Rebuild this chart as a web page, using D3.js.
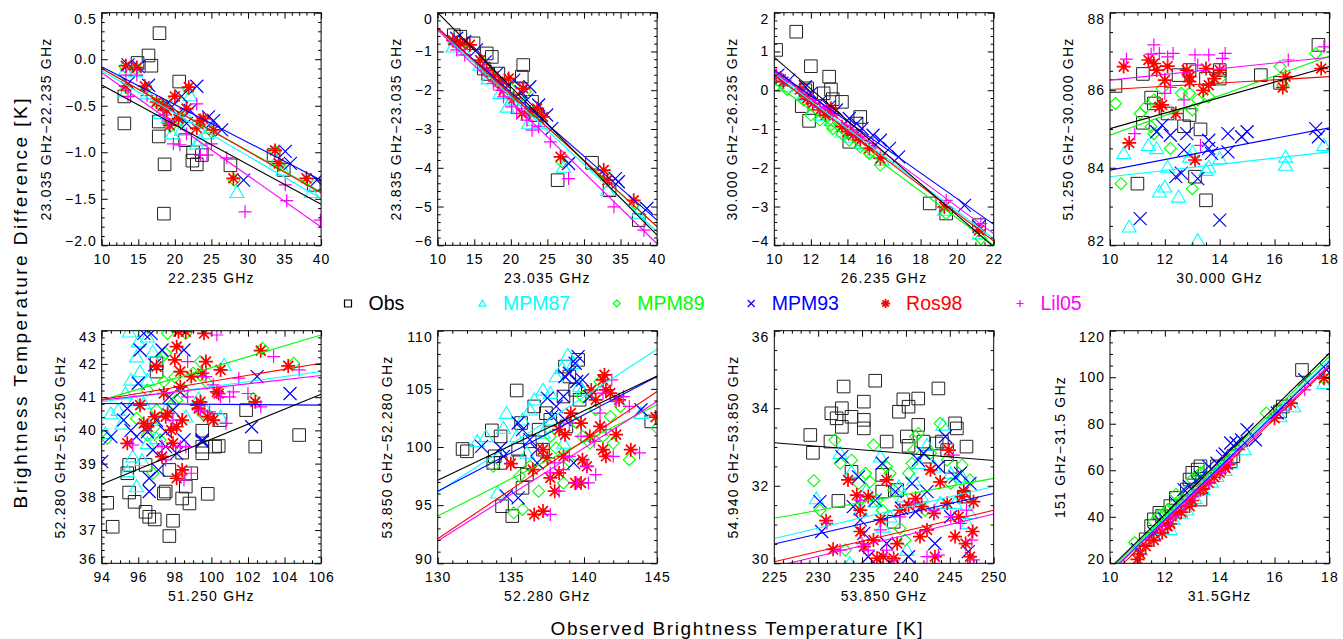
<!DOCTYPE html>
<html>
<head>
<meta charset="utf-8">
<script src="https://cdn.jsdelivr.net/npm/d3@7"></script>
<style>
body { margin: 0; background: #fff; }
text { font-family: "Liberation Sans", Arial, sans-serif; }
</style>
</head>
<body>
<div id="chart"></div>
<script>
// Series (same order in every panel)
var seriesNames = ["Obs", "MPM87", "MPM89", "MPM93", "Ros98", "Lil05"];
var seriesColors = ["#000000", "#00ffff", "#00ff00", "#0000ff", "#ff0000", "#ff00ff"];
var seriesSymbols = ["square", "triangle", "diamond", "x", "asterisk", "plus"];

// Panel axes
var xTitles = ["22.235 GHz", "23.035 GHz", "26.235 GHz", "30.000 GHz",
               "51.250 GHz", "52.280 GHz", "53.850 GHz", "31.5GHz"];
var yTitles = ["23.035 GHz\u221222.235 GHz", "23.835 GHz\u221223.035 GHz",
               "30.000 GHz\u221226.235 GHz", "51.250 GHz\u221230.000 GHz",
               "52.280 GHz\u221251.250 GHz", "53.850 GHz\u221252.280 GHz",
               "54.940 GHz\u221253.850 GHz", "151 GHz\u221231.5 GHz"];
var xDomains = [[10, 40], [10, 40], [10, 22], [10, 18], [94, 106], [130, 145], [225, 250], [10, 18]];
var yDomains = [[-2, 0.5], [-6, 0], [-4, 2], [82, 88], [36, 43], [90, 110], [30, 36], [20, 120]];
var xTickSteps = [5, 5, 2, 2, 2, 5, 5, 2];
var yTickSteps = [0.5, 1, 1, 2, 1, 5, 2, 20];
var yTickFormats = [".1f", "d", "d", "d", "d", "d", "d", "d"];

// Panel 1: 22.235 GHz
var p1Obs = [[17.9,0.28],[16.4,0.04],[16.8,-0.07],[14.9,-0.04],[13.1,-0.40],[13.1,-0.69],[17.8,-0.67],[17.8,-0.83],[20.6,-0.24],[18.6,-1.13],[18.5,-1.66],[22.4,-1.09],[23.0,-1.13],[23.7,-1.03],[27.6,-1.14],[33.5,-1.03],[34.9,-1.19],[39.0,-1.35],[22.5,-1.00],[21.4,-0.87]];
var p1Cyan = [[13.2,-0.12],[14.6,-0.13],[13.3,-0.35],[16.2,-0.37],[18.0,-0.58],[19.1,-0.62],[19.6,-0.80],[22.1,-0.39],[20.9,-0.76],[23.5,-0.87],[24.4,-0.80],[24.8,-0.74],[28.5,-1.43],[33.9,-1.09],[34.8,-1.19],[38.7,-1.43],[21.6,-0.62],[23.0,-0.91]];
var p1Green = [[13.2,-0.08],[14.7,-0.10],[13.4,-0.31],[16.1,-0.31],[17.8,-0.48],[18.7,-0.53],[20.0,-0.42],[21.9,-0.32],[20.7,-0.66],[23.7,-0.67],[25.0,-0.78],[28.1,-1.30],[33.7,-0.99],[34.3,-1.14],[38.1,-1.30],[19.4,-0.72]];
var p1Blue = [[13.6,-0.06],[15.0,-0.08],[13.6,-0.26],[16.4,-0.28],[18.9,-0.48],[19.6,-0.51],[20.9,-0.40],[23.0,-0.29],[22.1,-0.55],[24.6,-0.62],[25.3,-0.66],[26.4,-0.76],[29.4,-1.30],[35.1,-0.99],[35.8,-1.12],[39.4,-1.30],[21.6,-0.69],[20.3,-0.60]];
var p1Red = [[13.3,-0.07],[14.8,-0.09],[13.3,-0.29],[15.9,-0.29],[17.5,-0.46],[18.4,-0.50],[18.9,-0.55],[20.0,-0.40],[21.9,-0.30],[21.6,-0.53],[20.5,-0.64],[19.3,-0.71],[23.5,-0.66],[23.9,-0.64],[23.0,-0.74],[25.3,-0.76],[28.0,-1.28],[33.7,-0.98],[34.2,-1.12],[38.0,-1.28]];
var p1Mag = [[13.3,-0.17],[14.8,-0.17],[13.6,-0.40],[16.2,-0.39],[18.4,-0.60],[19.8,-0.91],[20.7,-0.92],[21.6,-0.80],[23.0,-0.48],[23.5,-1.03],[24.4,-1.03],[25.0,-0.91],[27.1,-1.06],[29.6,-1.64],[35.1,-1.35],[35.3,-1.52],[39.9,-1.73],[19.1,-0.69]];
var p1Fits = [[-0.278,-1.559],[-0.124,-1.498],[-0.099,-1.426],[-0.081,-1.30],[-0.099,-1.437],[-0.146,-1.803]];

// Panel 2: 23.035 GHz
var p2Obs = [[12.2,-0.58],[13.1,-0.62],[14.9,-0.79],[16.7,-1.05],[17.4,-1.14],[16.3,-1.44],[16.9,-1.58],[18.3,-1.57],[21.7,-1.35],[21.5,-1.65],[22.9,-2.30],[20.8,-1.95],[23.3,-2.64],[31.1,-3.87],[26.4,-4.32],[33.5,-4.58],[37.5,-5.35]];
var p2Cyan = [[12.1,-0.88],[13.5,-0.96],[15.8,-1.35],[16.9,-1.70],[18.5,-2.08],[20.1,-2.25],[21.7,-2.34],[23.1,-2.77],[22.4,-2.86],[27.2,-3.98],[33.2,-4.58],[37.3,-5.18],[19.5,-2.43],[24.5,-2.86]];
var p2Green = [[12.2,-0.75],[13.3,-0.83],[16.0,-1.27],[17.2,-1.61],[18.8,-1.87],[19.9,-1.95],[22.0,-2.04],[23.1,-2.56],[27.0,-3.85],[32.9,-4.19],[37.0,-4.92],[20.8,-2.25],[24.0,-2.64]];
var p2Blue = [[12.6,-0.66],[13.7,-0.75],[15.3,-0.96],[16.5,-1.27],[18.1,-1.57],[19.0,-1.78],[20.4,-1.74],[22.6,-1.91],[21.4,-2.04],[23.8,-2.38],[24.9,-2.64],[25.6,-2.99],[27.9,-3.89],[34.3,-4.28],[34.7,-4.36],[38.6,-5.05],[22.2,-2.25]];
var p2Red = [[12.1,-0.71],[13.1,-0.79],[14.4,-0.83],[15.8,-1.22],[16.7,-1.48],[17.6,-1.65],[18.3,-1.78],[19.7,-1.70],[21.7,-1.95],[19.0,-2.00],[20.4,-2.21],[22.6,-2.56],[23.6,-2.47],[26.8,-3.72],[32.7,-4.06],[33.2,-4.32],[36.8,-4.84],[21.5,-2.60],[24.4,-2.69]];
var p2Mag = [[12.6,-0.96],[13.7,-1.09],[16.3,-1.48],[17.6,-1.82],[19.0,-2.17],[20.1,-2.43],[20.8,-2.60],[21.5,-2.47],[22.9,-3.03],[23.8,-2.94],[25.4,-3.33],[27.9,-4.28],[34.1,-5.01],[38.2,-5.61],[18.5,-2.00],[22.2,-2.77]];
var p2Fits = [[0.0,-5.74],[-0.43,-5.65],[-0.40,-5.52],[-0.40,-5.35],[-0.40,-5.52],[-0.45,-5.96]];

// Panel 3: 26.235 GHz
var p3Obs = [[10.1,1.04],[11.2,1.51],[12.0,0.62],[13.0,0.35],[13.1,0.02],[13.2,-0.23],[13.7,-0.30],[11.7,0.00],[11.8,0.05],[11.5,-0.41],[11.9,-0.79],[14.7,-0.69],[14.5,-0.86],[14.1,-1.33],[18.5,-2.92],[19.4,-3.18],[21.2,-3.48],[12.7,-0.08]];
var p3Cyan = [[10.1,0.26],[10.6,0.11],[11.6,-0.13],[12.1,-0.47],[12.6,-0.64],[13.1,-0.77],[13.7,-1.07],[14.2,-1.20],[14.8,-1.37],[15.4,-1.59],[15.9,-1.80],[19.3,-3.09],[21.2,-3.70]];
var p3Green = [[10.1,0.13],[10.7,0.02],[11.6,-0.25],[12.0,-0.64],[12.5,-0.77],[13.1,-0.90],[13.7,-1.12],[14.1,-1.29],[14.7,-1.46],[15.2,-1.63],[15.8,-1.93],[19.4,-3.18],[21.3,-3.83],[13.2,-0.99]];
var p3Blue = [[10.2,0.39],[10.8,0.26],[11.7,0.09],[12.0,-0.08],[12.5,-0.30],[13.0,-0.43],[13.4,-0.51],[14.1,-0.73],[14.5,-0.86],[14.8,-0.99],[15.4,-1.16],[15.8,-1.29],[16.3,-1.50],[16.8,-1.72],[20.4,-2.97],[21.2,-3.52]];
var p3Red = [[10.1,0.36],[10.5,0.22],[11.4,0.02],[11.8,-0.21],[12.1,-0.34],[12.5,-0.51],[12.8,-0.64],[13.2,-0.60],[13.7,-0.94],[14.0,-1.07],[14.3,-1.16],[14.7,-1.29],[15.2,-1.50],[15.8,-1.76],[19.3,-3.01],[21.2,-3.61],[13.1,-0.47]];
var p3Mag = [[10.1,0.43],[10.6,0.26],[11.6,-0.08],[12.1,-0.25],[12.5,-0.43],[12.9,-0.47],[13.2,-0.64],[13.9,-0.90],[14.3,-1.07],[14.8,-1.20],[15.4,-1.37],[19.4,-2.84],[21.3,-3.44]];
var p3Fits = [[0.847,-4.04],[0.43,-3.83],[0.18,-4.00],[0.52,-3.46],[0.39,-3.89],[0.48,-3.70]];

// Panel 4: 30.000 GHz
var p4Obs = [[10.2,86.11],[11.2,86.42],[11.2,85.16],[11.5,85.81],[11.6,85.66],[12.1,85.40],[12.5,86.39],[12.9,86.52],[12.9,85.36],[12.7,85.07],[13.3,84.99],[13.1,83.77],[11.0,83.59],[13.5,83.16],[14.0,86.52],[14.0,86.30],[13.5,86.30],[15.5,86.39],[16.2,86.19],[17.6,87.17]];
var p4Cyan = [[10.5,84.37],[10.7,82.48],[11.4,84.58],[11.7,84.50],[11.8,83.38],[12.0,83.51],[12.1,84.02],[12.5,83.25],[12.9,84.28],[13.2,82.13],[13.5,83.94],[13.6,84.02],[14.0,84.24],[16.4,84.28],[16.4,84.07],[17.8,84.58],[13.0,84.41]];
var p4Green = [[10.2,85.66],[10.4,83.59],[11.1,85.40],[11.3,85.57],[11.6,85.75],[11.5,85.06],[11.6,84.88],[11.9,86.05],[12.2,84.50],[12.6,85.92],[12.9,85.92],[13.2,85.75],[13.6,85.83],[13.0,83.46],[14.0,86.30],[16.2,86.61],[16.3,86.13],[17.5,86.95],[13.0,85.49]];
var p4Blue = [[11.1,82.69],[11.7,84.93],[11.9,85.10],[12.2,84.84],[12.4,83.77],[12.6,83.86],[12.7,84.46],[12.8,84.88],[13.2,83.72],[13.6,84.71],[13.6,84.50],[13.7,84.37],[14.0,82.65],[14.3,84.88],[14.3,84.41],[14.8,84.80],[15.0,84.93],[17.5,85.01],[17.6,84.80]];
var p4Red = [[10.5,86.61],[10.7,84.64],[11.4,86.78],[11.6,86.69],[11.7,86.52],[11.9,85.62],[11.8,85.57],[12.0,86.26],[12.1,86.62],[12.4,85.40],[12.8,86.52],[12.9,86.35],[12.9,86.22],[13.1,84.20],[13.4,86.00],[13.5,86.56],[13.6,86.13],[14.0,86.52],[13.8,86.30],[16.3,86.07],[16.4,86.35],[17.7,86.56]];
var p4Mag = [[10.6,86.80],[10.9,84.88],[11.5,86.93],[11.6,87.17],[11.8,86.95],[12.1,86.86],[12.3,86.95],[12.0,85.92],[12.2,86.07],[12.7,85.75],[13.1,86.91],[13.2,86.65],[13.6,86.91],[14.1,86.82],[14.2,86.95],[13.3,84.58],[16.5,86.78],[17.8,87.12]];
var p4Fits = [[85.01,86.61],[83.77,84.41],[84.84,86.88],[83.94,85.03],[86.02,86.35],[86.26,86.85]];

// Panel 5: 51.250 GHz
var p5Obs = [[94.3,37.82],[94.6,37.10],[95.5,38.96],[95.4,38.71],[95.5,38.13],[95.8,37.85],[96.4,38.96],[96.4,37.55],[96.6,37.40],[96.9,37.32],[97.0,41.77],[97.4,38.10],[97.5,38.16],[97.7,38.81],[97.7,36.82],[97.9,37.28],[98.4,37.95],[98.6,38.31],[98.8,37.80],[98.4,39.33],[98.9,38.71],[99.5,39.31],[99.5,39.51],[99.8,38.09],[100.2,39.51],[100.4,39.53],[100.5,40.31],[99.5,39.99],[101.9,40.61],[102.4,39.51],[104.8,39.86],[97.0,42.02]];
var p5Cyan = [[94.2,39.91],[94.5,40.51],[94.9,40.61],[95.3,41.11],[95.4,38.76],[95.5,42.97],[95.6,41.52],[95.7,39.21],[95.9,42.22],[95.9,38.31],[96.0,42.67],[96.1,41.77],[96.3,40.81],[96.5,41.52],[96.5,39.61],[96.8,40.31],[96.8,42.37],[97.0,39.76],[97.5,40.61],[98.6,40.41],[99.3,40.96],[99.7,40.61],[100.5,40.41],[100.7,41.97],[96.5,42.82],[95.1,40.2],[95.8,40.9],[96.2,39.1]];
var p5Green = [[94.3,39.76],[95.9,40.36],[96.5,41.21],[96.5,39.86],[96.8,38.71],[97.0,40.61],[97.2,39.71],[97.4,41.47],[97.5,42.32],[97.6,42.92],[97.9,40.81],[98.1,40.91],[98.5,41.21],[99.0,41.72],[99.4,41.67],[99.8,41.42],[99.5,40.51],[98.6,42.92],[99.4,42.07],[102.3,40.96],[102.8,42.47],[104.5,42.02],[97.3,42.20],[96.9,40.1],[98.0,41.6]];
var p5Blue = [[94.0,39.06],[94.5,39.81],[95.2,40.31],[95.4,40.66],[95.9,39.81],[96.0,41.42],[96.1,42.42],[96.3,42.92],[96.5,39.96],[96.6,38.56],[96.6,38.16],[96.7,42.92],[96.9,41.97],[96.8,39.41],[97.1,38.81],[97.3,42.42],[97.5,39.51],[97.5,39.96],[97.7,41.01],[97.9,40.61],[98.3,41.16],[98.5,42.42],[98.5,39.71],[99.5,39.71],[99.5,39.66],[102.5,41.62],[102.2,40.11],[104.3,41.11],[98.1,39.31],[95.6,40.0],[97.0,40.3]];
var p5Red = [[95.4,39.61],[96.1,40.76],[96.3,40.21],[96.5,40.11],[96.9,40.41],[97.0,41.92],[97.3,39.21],[97.4,41.11],[97.5,40.41],[97.6,40.51],[97.8,40.01],[97.9,39.61],[98.0,42.12],[98.1,42.52],[98.2,42.97],[98.3,41.31],[98.4,38.81],[98.1,38.56],[98.1,40.11],[98.4,40.31],[98.3,41.77],[98.6,42.97],[98.9,41.62],[99.2,40.76],[99.3,40.66],[99.4,40.86],[99.5,41.72],[99.6,42.92],[99.7,42.07],[99.8,40.41],[100.1,40.31],[100.3,41.16],[100.4,41.11],[100.5,41.82],[102.4,40.86],[102.7,42.40],[104.2,41.94]];
var p5Mag = [[95.7,39.56],[97.3,39.51],[97.5,39.11],[97.9,40.31],[98.3,39.51],[98.6,39.51],[98.5,38.51],[98.9,38.71],[98.7,42.07],[99.7,41.62],[99.9,40.56],[100.1,41.37],[100.3,42.87],[100.5,41.01],[100.8,40.21],[101.0,41.01],[101.2,41.16],[101.5,41.57],[102.0,41.11],[102.7,40.71],[103.4,42.22],[104.8,41.82],[98.7,41.01],[99.4,40.61]];
var p5Fits = [[38.38,41.09],[40.86,41.77],[40.91,42.87],[40.81,40.76],[40.93,42.02],[40.91,41.65]];

// Panel 6: 52.280 GHz
var p6Obs = [[131.7,99.83],[132.0,99.63],[133.7,101.43],[133.8,98.63],[134.3,100.91],[134.3,98.63],[133.9,99.20],[134.4,94.91],[135.1,94.06],[135.4,104.86],[135.5,99.77],[135.6,98.77],[135.7,102.06],[136.1,97.63],[135.8,96.49],[136.3,100.49],[136.6,103.49],[136.9,101.49],[137.4,102.91],[137.7,102.34],[137.2,99.77],[138.7,106.91],[139.0,106.06],[139.6,107.49],[139.4,104.91],[139.7,104.06],[138.8,101.77],[144.6,102.20],[138.6,104.34]];
var p6Cyan = [[132.7,100.49],[133.3,100.91],[134.1,96.06],[134.5,101.63],[134.7,102.91],[135.4,100.91],[135.8,102.34],[136.3,103.20],[136.6,104.06],[137.2,104.91],[137.7,104.63],[138.1,106.06],[138.5,106.77],[138.9,107.91],[139.3,107.20],[139.7,105.20],[137.2,101.20],[137.8,102.34],[138.6,100.34],[143.9,102.91],[136.1,99.49],[139.9,104.91]];
var p6Green = [[133.8,98.34],[135.2,94.34],[135.8,94.63],[135.6,97.49],[136.3,98.34],[136.9,96.20],[137.2,98.63],[137.7,100.91],[138.1,99.91],[138.6,96.91],[139.0,98.77],[139.5,102.06],[139.9,100.91],[140.4,100.34],[140.8,103.20],[141.1,105.63],[141.3,100.91],[141.8,102.63],[142.0,100.34],[142.5,103.49],[143.1,98.91],[145.0,101.63],[139.9,104.34]];
var p6Blue = [[133.0,100.06],[134.3,99.91],[134.5,99.20],[134.7,95.77],[135.5,95.63],[135.5,102.06],[135.8,101.49],[136.3,100.63],[136.8,99.77],[137.5,104.20],[137.8,102.63],[138.1,103.49],[138.6,104.34],[138.7,106.06],[139.0,106.34],[139.4,107.20],[139.6,107.77],[139.5,105.63],[139.9,105.77],[138.7,102.34],[139.3,98.63],[140.4,104.34],[143.9,103.20],[136.8,98.63]];
var p6Red = [[135.0,98.57],[136.6,94.20],[137.2,94.49],[136.5,98.06],[137.2,99.77],[137.5,99.06],[137.7,97.34],[138.0,96.20],[138.3,97.77],[138.7,101.06],[138.6,99.20],[139.1,102.91],[139.4,96.91],[139.8,96.91],[139.9,98.91],[140.2,98.34],[139.8,102.06],[140.4,100.91],[140.5,104.91],[140.8,104.06],[141.1,101.77],[141.3,105.77],[141.4,106.20],[141.5,104.91],[141.8,104.63],[141.3,99.77],[141.5,99.20],[142.2,101.06],[142.4,104.06],[143.2,99.77],[144.9,102.57],[138.3,101.49]];
var p6Mag = [[137.7,97.77],[137.7,94.20],[138.3,96.20],[138.0,98.63],[138.6,98.06],[139.0,102.06],[139.5,96.91],[140.3,96.91],[140.2,98.34],[140.7,100.49],[140.8,97.63],[141.1,102.91],[141.3,104.63],[141.5,101.49],[142.0,99.20],[141.9,105.77],[142.2,103.91],[142.7,104.34],[143.1,103.49],[143.8,99.49],[139.0,99.20],[139.8,100.91]];
var p6Fits = [[97.14,106.11],[96.11,108.4],[94.06,103.63],[96.2,106.06],[92.11,104.77],[91.91,103.91]];

// Panel 7: 53.850 GHz
var p7Obs = [[229.1,33.31],[229.4,32.85],[231.5,33.87],[231.4,33.14],[232.1,33.74],[232.7,34.00],[232.9,34.56],[232.7,33.52],[232.3,31.61],[233.8,33.78],[233.8,32.36],[235.2,34.17],[235.2,33.70],[235.2,33.48],[236.5,34.71],[237.3,31.85],[237.3,32.28],[237.8,33.14],[239.0,31.89],[239.2,33.91],[239.7,34.23],[240.1,33.27],[240.3,34.04],[240.3,33.03],[241.4,34.25],[241.4,33.57],[242.0,33.14],[242.4,32.75],[243.7,34.51],[243.5,33.09],[244.1,33.14],[244.7,32.92],[245.1,32.49],[245.6,33.61],[245.8,33.48],[246.9,33.01],[238.6,31.07],[246.6,31.72]];
var p7Cyan = [[229.8,31.67],[232.5,32.84],[233.8,32.36],[233.6,30.00],[234.8,31.37],[235.5,31.89],[236.5,31.59],[237.1,32.75],[237.4,30.94],[238.2,31.20],[239.2,31.98],[239.7,31.72],[240.1,30.34],[240.9,32.15],[241.4,32.58],[241.8,31.72],[242.4,33.05],[243.2,32.49],[243.9,31.55],[244.2,33.57],[245.1,32.32],[245.6,31.55],[246.4,32.23],[247.0,31.03],[247.3,31.29]];
var p7Green = [[229.5,32.13],[230.2,31.37],[231.9,33.18],[232.5,32.58],[233.1,30.34],[233.8,32.66],[234.6,32.06],[235.4,32.32],[235.9,32.10],[236.3,33.05],[236.7,31.63],[237.3,31.37],[238.2,32.32],[238.6,31.89],[239.3,30.90],[239.9,30.60],[240.3,32.32],[240.7,32.58],[240.9,32.92],[241.1,33.27],[241.4,33.35],[242.2,31.37],[242.8,32.84],[243.9,33.61],[244.7,32.66],[245.1,32.06],[246.4,32.53],[247.3,32.15],[234.8,31.63],[237.8,32.49]];
var p7Blue = [[230.2,31.59],[230.4,30.82],[232.7,32.75],[234.0,31.46],[234.6,32.23],[234.8,31.12],[235.2,30.77],[235.7,30.17],[236.5,31.63],[237.3,32.58],[237.8,30.51],[238.2,30.00],[238.8,31.85],[239.5,31.42],[240.3,30.17],[240.7,32.06],[241.1,31.33],[241.4,32.66],[242.0,32.84],[242.4,31.85],[243.3,30.51],[243.7,32.49],[244.5,33.27],[245.1,31.20],[245.6,32.23],[246.2,32.32],[247.3,32.06],[247.1,30.30]];
var p7Red = [[230.9,31.10],[231.7,30.36],[233.4,32.15],[234.4,31.76],[234.8,31.37],[234.8,30.82],[235.2,30.43],[235.7,31.72],[236.3,30.60],[236.7,30.13],[237.1,31.12],[237.4,30.17],[237.8,32.15],[238.6,30.13],[239.0,30.51],[239.3,31.37],[240.3,31.50],[241.1,31.67],[241.6,30.69],[241.8,31.46],[242.4,30.86],[242.8,32.41],[243.2,31.29],[243.3,30.17],[243.9,32.10],[244.7,31.55],[244.9,32.92],[245.6,30.69],[246.0,31.20],[246.4,31.72],[246.6,31.85],[246.8,30.51],[247.3,30.17],[247.7,31.59],[247.6,30.82]];
var p7Mag = [[231.0,31.03],[232.5,30.34],[234.8,31.63],[235.0,30.51],[235.7,30.34],[237.1,30.86],[237.8,30.34],[238.6,30.09],[239.3,31.20],[240.9,31.55],[242.4,30.17],[243.2,31.37],[243.7,30.21],[245.1,31.20],[245.4,32.79],[246.2,31.03],[246.9,31.37],[247.5,30.60],[247.7,30.09]];
var p7Fits = [[33.11,32.65],[30.64,31.98],[31.16,32.19],[30.50,31.80],[30.04,31.37],[29.91,31.27]];

// Panel 8: 31.5 GHz
var p8Obs = [[11.3,30.3],[11.5,36.0],[11.6,38.9],[11.8,41.7],[11.9,40.3],[12.2,44.6],[12.4,48.1],[12.8,51.7],[13.0,58.9],[13.2,60.3],[13.3,61.7],[13.3,47.4],[13.9,61.7],[14.4,63.9],[14.5,66.0],[16.3,87.4],[16.2,85.3],[17.0,103.1],[12.9,56.0]];
var p8Cyan = [[11.1,26.0],[11.6,31.7],[12.2,34.6],[12.6,41.7],[12.9,47.4],[13.4,51.7],[13.9,57.4],[14.4,63.1],[14.9,68.9],[16.2,83.1],[16.7,87.4],[17.8,97.4],[11.9,35.0],[12.3,39.0],[12.8,43.0],[13.1,48.0],[13.7,55.0],[14.2,60.0]];
var p8Green = [[10.9,28.9],[11.8,40.3],[12.1,43.1],[12.4,49.6],[12.6,48.1],[13.0,56.0],[13.3,58.9],[13.5,60.3],[14.1,63.1],[15.7,84.6],[17.8,99.6],[11.6,38.0],[12.0,41.0],[12.3,45.0],[12.8,51.0],[13.2,57.0]];
var p8Blue = [[11.0,26.0],[11.6,33.1],[11.9,37.4],[12.7,51.7],[13.2,54.6],[13.6,61.7],[14.1,66.0],[14.4,71.7],[14.6,71.7],[15.0,77.4],[16.1,84.6],[17.1,98.9],[17.9,103.1],[15.3,73.1],[12.0,39.0],[12.4,46.0],[12.9,53.0],[13.3,57.0],[13.9,63.0],[14.2,67.0],[14.8,73.0]];
var p8Red = [[11.0,21.7],[11.3,27.4],[11.9,33.1],[12.1,36.0],[12.4,41.0],[12.9,44.6],[13.3,51.7],[13.6,54.6],[14.0,58.9],[14.3,62.4],[16.0,82.4],[16.6,88.9],[17.8,99.6],[11.1,24.0],[11.6,30.0],[12.2,37.0],[12.6,42.0],[13.0,47.0],[13.4,52.0],[13.8,57.0],[14.2,61.0]];
var p8Mag = [[11.3,30.3],[11.8,34.6],[12.2,38.9],[12.4,43.1],[12.8,47.4],[13.2,51.0],[13.5,56.0],[13.9,60.3],[14.3,66.0],[14.7,68.9],[16.2,86.0],[17.1,94.6],[11.9,36.0],[12.3,40.0],[12.7,45.0],[13.1,49.0],[13.6,55.0],[14.0,59.0],[14.4,63.0]];
var p8Fits = [[17.9,110.3],[16.6,107.4],[17.25,108.9],[16.0,106.7],[14.5,104.6],[16.0,105.3]];

// Build the panel table from the arrays above
var panelPoints = [
    [p1Obs, p1Cyan, p1Green, p1Blue, p1Red, p1Mag],
    [p2Obs, p2Cyan, p2Green, p2Blue, p2Red, p2Mag],
    [p3Obs, p3Cyan, p3Green, p3Blue, p3Red, p3Mag],
    [p4Obs, p4Cyan, p4Green, p4Blue, p4Red, p4Mag],
    [p5Obs, p5Cyan, p5Green, p5Blue, p5Red, p5Mag],
    [p6Obs, p6Cyan, p6Green, p6Blue, p6Red, p6Mag],
    [p7Obs, p7Cyan, p7Green, p7Blue, p7Red, p7Mag],
    [p8Obs, p8Cyan, p8Green, p8Blue, p8Red, p8Mag]
];
var panelFits = [p1Fits, p2Fits, p3Fits, p4Fits, p5Fits, p6Fits, p7Fits, p8Fits];

// Layout
var width = 1343, height = 639;
var colLeft = [101.7, 437.7, 774.3, 1110];
var rowTop = [12.7, 330.7];
var panelW = 219.4, panelH = 232.6;
var fontFamily = "'Liberation Sans', Arial, sans-serif";

var markerR = [6.3, 7, 6, 6.5, 7, 6.5];
var markerW = [1, 1.1, 1.1, 1.2, 1.7, 1.2];

function markerPath(type, r) {
    var d;
    switch (type) {
        case "square": return "M" + (-r) + "," + (-r) + "H" + r + "V" + r + "H" + (-r) + "Z";
        case "triangle": return "M0," + (-r * 0.95) + "L" + r + "," + (r * 0.75) + "L" + (-r) + "," + (r * 0.75) + "Z";
        case "diamond": return "M0," + (-r) + "L" + r + ",0L0," + r + "L" + (-r) + ",0Z";
        case "x": return "M" + (-r) + "," + (-r) + "L" + r + "," + r + "M" + (-r) + "," + r + "L" + r + "," + (-r);
        case "plus": return "M" + (-r) + ",0H" + r + "M0," + (-r) + "V" + r;
        case "asterisk":
            d = r * 0.7071;
            return "M" + (-r) + ",0H" + r + "M0," + (-r) + "V" + r +
                   "M" + (-d) + "," + (-d) + "L" + d + "," + d + "M" + (-d) + "," + d + "L" + d + "," + (-d);
    }
}

function tickRange(dom, step) {
    var n = Math.round((dom[1] - dom[0]) / step);
    return d3.range(n + 1).map(function (k) { return +(dom[0] + k * step).toFixed(6); });
}

function minorCount(step) {
    var f = Math.round(step / Math.pow(10, Math.floor(Math.log10(step))));
    return f === 2 ? 4 : 5;
}

function minorTicks(dom, step) {
    var all = tickRange(dom, step / minorCount(step));
    return all.filter(function (v, i) { return i % minorCount(step) !== 0; });
}

var svg = d3.select("#chart").append("svg")
    .attr("width", width)
    .attr("height", height);

svg.append("rect").attr("width", width).attr("height", height).attr("fill", "#fff");
var defs = svg.append("defs");

function styleAxis(g) {
    g.attr("font-family", fontFamily).attr("font-size", 14);
    g.select(".domain").remove();
    g.selectAll(".tick line").attr("stroke", "#000").attr("stroke-width", 1);
    g.selectAll(".tick text").style("letter-spacing", "1px");
}

panelPoints.forEach(function (series, i) {
    var col = i % 4, row = Math.floor(i / 4);
    var xd = xDomains[i], yd = yDomains[i];
    var g = svg.append("g")
        .attr("transform", "translate(" + colLeft[col] + "," + rowTop[row] + ")");

    var x = d3.scaleLinear().domain(xd).range([0, panelW]);
    var y = d3.scaleLinear().domain(yd).range([panelH, 0]);

    defs.append("clipPath").attr("id", "clip" + i)
        .append("rect").attr("width", panelW).attr("height", panelH);

    var plot = g.append("g").attr("clip-path", "url(#clip" + i + ")");

    // points
    series.forEach(function (pts, s) {
        plot.selectAll(null)
            .data(pts).enter()
            .append("path")
            .attr("transform", function (d) { return "translate(" + x(d[0]) + "," + y(d[1]) + ")"; })
            .attr("d", markerPath(seriesSymbols[s], markerR[s]))
            .attr("fill", "none")
            .attr("stroke", s === 0 ? "#222" : seriesColors[s])
            .attr("stroke-width", markerW[s]);
    });

    // fit lines, black one last
    [1, 2, 3, 4, 5, 0].forEach(function (s) {
        var f = panelFits[i][s];
        plot.append("line")
            .attr("x1", x(xd[0])).attr("y1", y(f[0]))
            .attr("x2", x(xd[1])).attr("y2", y(f[1]))
            .attr("stroke", seriesColors[s])
            .attr("stroke-width", 1.1);
    });

    var xMaj = tickRange(xd, xTickSteps[i]), xMin = minorTicks(xd, xTickSteps[i]);
    var yMaj = tickRange(yd, yTickSteps[i]), yMin = minorTicks(yd, yTickSteps[i]);

    // bottom axis with labels
    g.append("g").attr("transform", "translate(0," + panelH + ")")
        .call(d3.axisBottom(x).tickValues(xMaj).tickSize(-6).tickPadding(9).tickFormat(d3.format("d")))
        .call(styleAxis);
    g.append("g").attr("transform", "translate(0," + panelH + ")")
        .call(d3.axisBottom(x).tickValues(xMin).tickSize(-3).tickFormat(""))
        .call(styleAxis);
    // top axis
    g.append("g").call(d3.axisTop(x).tickValues(xMaj).tickSize(-6).tickFormat("")).call(styleAxis);
    g.append("g").call(d3.axisTop(x).tickValues(xMin).tickSize(-3).tickFormat("")).call(styleAxis);

    // left axis with labels
    var yAxis = g.append("g")
        .call(d3.axisLeft(y).tickValues(yMaj).tickSize(-6).tickPadding(5).tickFormat(d3.format(yTickFormats[i])))
        .call(styleAxis);
    yAxis.selectAll(".tick text").attr("y", function (d) {
        return d === yd[1] ? 6 : (d === yd[0] ? -4 : 0);
    });
    g.append("g").call(d3.axisLeft(y).tickValues(yMin).tickSize(-3).tickFormat("")).call(styleAxis);
    // right axis
    g.append("g").attr("transform", "translate(" + panelW + ",0)")
        .call(d3.axisRight(y).tickValues(yMaj).tickSize(-6).tickFormat("")).call(styleAxis);
    g.append("g").attr("transform", "translate(" + panelW + ",0)")
        .call(d3.axisRight(y).tickValues(yMin).tickSize(-3).tickFormat("")).call(styleAxis);

    // frame
    g.append("rect")
        .attr("width", panelW).attr("height", panelH)
        .attr("fill", "none").attr("stroke", "#000").attr("stroke-width", 1);

    // titles
    g.append("text")
        .attr("x", panelW / 2).attr("y", panelH + 37.5)
        .attr("text-anchor", "middle")
        .style("font-size", "14px").style("letter-spacing", "1.2px")
        .text(xTitles[i]);

    var maxW = d3.max(yAxis.selectAll(".tick text").nodes(), function (n) { return n.getBBox().width; });
    g.append("text")
        .attr("transform", "translate(" + (-5 - maxW - 14) + "," + (panelH / 2) + ") rotate(-90)")
        .attr("text-anchor", "middle")
        .style("font-size", "14px").style("letter-spacing", "1.2px")
        .text(yTitles[i]);
});

// Legend
var legendX = 348, legendStep = 134.4, legendY = 303.5;
var legend = svg.append("g").attr("class", "legend");
var legendItems = legend.selectAll(".legend-item")
    .data(seriesNames).enter()
    .append("g")
    .attr("class", "legend-item")
    .attr("transform", function (d, i) { return "translate(" + (legendX + i * legendStep) + "," + legendY + ")"; });

legendItems.append("path")
    .attr("d", function (d, i) { return markerPath(seriesSymbols[i], i === 4 ? 4.5 : 3.5); })
    .attr("fill", "none")
    .attr("stroke", function (d, i) { return seriesColors[i]; })
    .attr("stroke-width", function (d, i) { return i === 4 ? 1.8 : 1.2; });

legendItems.append("text")
    .attr("x", 20.5)
    .attr("y", 6.5)
    .style("font-size", "19.5px")
    .style("fill", function (d, i) { return seriesColors[i]; })
    .text(function (d) { return d; });

// Shared titles
svg.append("text")
    .attr("x", 736.5).attr("y", 635)
    .attr("text-anchor", "middle")
    .attr("textLength", 372).attr("lengthAdjust", "spacing")
    .style("font-size", "19px")
    .text("Observed Brightness Temperature [K]");

svg.append("text")
    .attr("transform", "translate(27,303.5) rotate(-90)")
    .attr("text-anchor", "middle")
    .attr("textLength", 410).attr("lengthAdjust", "spacing")
    .style("font-size", "19px")
    .text("Brightness Temperature Difference [K]");
</script>
</body>
</html>
